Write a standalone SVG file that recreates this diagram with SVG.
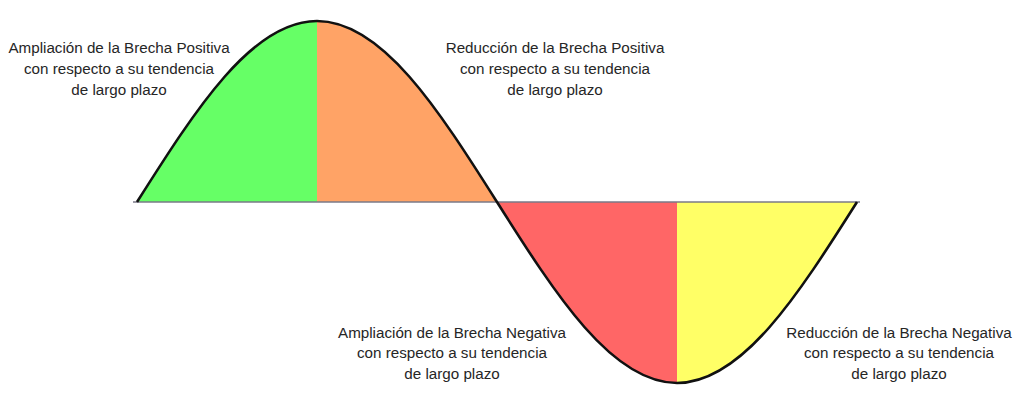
<svg xmlns="http://www.w3.org/2000/svg" width="1020" height="405" viewBox="0 0 1020 405">
<style>
.lbl{font-family:"Liberation Sans",Arial,sans-serif;font-size:15.2px;fill:#262626;text-anchor:middle}
.curve{fill:none;stroke:#111;stroke-width:2.6;stroke-linejoin:round}
.axis{stroke:#7a7a88;stroke-width:1.6}
</style>
<rect width="1020" height="405" fill="#fff"/>
<g id="regions">
<path id="green" d="M137,202 C195.7,109.3 251.9,21 317,21 L317,202 Z" fill="#66FF66"/>
<path id="orange" d="M317,21 C382.1,21 438.3,109.3 497,202 L317,202 Z" fill="#FFA366"/>
<path id="red" d="M497,202 C555.7,294.7 611.9,383 677,383 L677,202 Z" fill="#FF6666"/>
<path id="yellow" d="M677,383 C742.1,383 798.3,294.7 857,202 L677,202 Z" fill="#FFFF66"/>
</g>
<g id="axis"><line class="axis" x1="133" y1="202" x2="860" y2="202"/></g>
<g id="wave"><path class="curve" d="M137,202 C195.7,109.3 251.9,21 317,21 C382.1,21 438.3,109.3 497,202 C555.7,294.7 611.9,383 677,383 C742.1,383 798.3,294.7 857,202"/></g>
<g id="label-amp-pos">
<text class="lbl" x="119" y="53">Ampliación de la Brecha Positiva</text>
<text class="lbl" x="119" y="74">con respecto a su tendencia</text>
<text class="lbl" x="119" y="95">de largo plazo</text>
</g>
<g id="label-red-pos">
<text class="lbl" x="555" y="53">Reducción de la Brecha Positiva</text>
<text class="lbl" x="555" y="74">con respecto a su tendencia</text>
<text class="lbl" x="555" y="95">de largo plazo</text>
</g>
<g id="label-amp-neg">
<text class="lbl" x="452" y="338">Ampliación de la Brecha Negativa</text>
<text class="lbl" x="452" y="358">con respecto a su tendencia</text>
<text class="lbl" x="452" y="379">de largo plazo</text>
</g>
<g id="label-red-neg">
<text class="lbl" x="899" y="338">Reducción de la Brecha Negativa</text>
<text class="lbl" x="899" y="358">con respecto a su tendencia</text>
<text class="lbl" x="899" y="379">de largo plazo</text>
</g>
</svg>
